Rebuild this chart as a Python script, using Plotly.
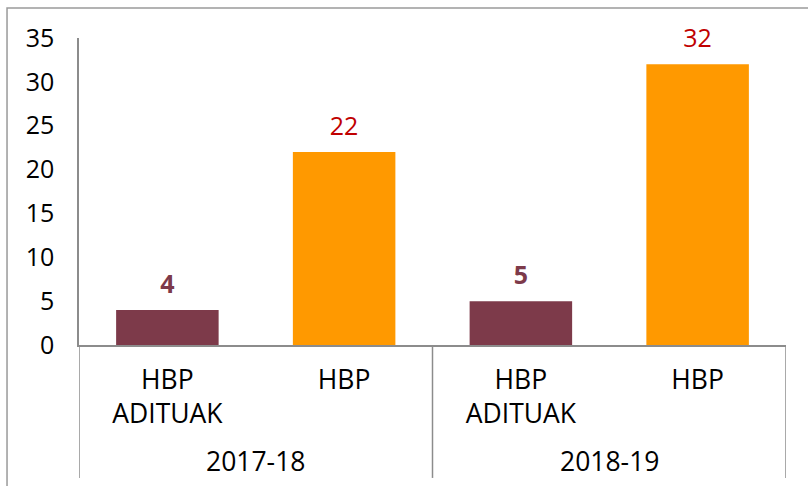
import plotly.graph_objects as go

groups = ["2017-18", "2017-18", "2018-19", "2018-19"]
categories = ["HBP<br>ADITUAK", "HBP", "HBP<br>ADITUAK", "HBP"]
values = [4, 22, 5, 32]
bar_colors = ["#7D3A4A", "#FF9900", "#7D3A4A", "#FF9900"]
label_colors = ["#7D3A4A", "#C00000", "#7D3A4A", "#C00000"]
label_weights = ["bold", "normal", "bold", "normal"]
y_ticks = [0, 5, 10, 15, 20, 25, 30, 35]

FONT = "Open Sans"
GREY = "#8C8C8C"

keys = [f"{g}|{c}" for g, c in zip(groups, categories)]

fig = go.Figure()
fig.add_trace(go.Bar(
    x=keys, y=values,
    marker=dict(color=bar_colors, line=dict(width=0)),
    hoverinfo="skip",
))
fig.add_trace(go.Scatter(
    x=keys, y=values,
    mode="markers+text",
    text=[f"<b>{v}</b>" if w == "bold" else str(v) for v, w in zip(values, label_weights)],
    textposition="top center",
    textfont=dict(family=FONT, size=25, color=label_colors),
    marker=dict(size=16, opacity=0),
    hoverinfo="skip",
    cliponaxis=False,
))

# group labels and dividers, positioned on the category axis by index
annotations = []
shapes = []
unique_groups = list(dict.fromkeys(groups))
boundaries = [-0.5]
for grp in unique_groups:
    idx = [i for i, g in enumerate(groups) if g == grp]
    center = sum(idx) / len(idx)
    annotations.append(dict(
        x=center, xref="x", y=0, yref="paper", yshift=-136,
        yanchor="bottom", xanchor="center", showarrow=False,
        text=grp, font=dict(family=FONT, size=26.5, color="#000000"),
    ))
    boundaries.append(max(idx) + 0.5)
for b in boundaries:
    shapes.append(dict(type="line", xref="x", yref="paper",
                       x0=b, x1=b, y0=0, y1=-0.433,
                       line=dict(color=GREY, width=1.5)))
shapes.append(dict(type="rect", xref="paper", yref="paper",
                   x0=-0.1018, x1=1.3, y0=-0.7, y1=1.0977,
                   line=dict(color="#9A9A9A", width=1.5), layer="below"))

fig.update_layout(
    width=808, height=486,
    margin=dict(l=79, r=22, t=38, b=141),
    paper_bgcolor="white", plot_bgcolor="white",
    showlegend=False,
    bargap=0.42,
    font=dict(family=FONT, size=24, color="#000000"),
    annotations=annotations,
    shapes=shapes,
)
fig.update_yaxes(
    range=[0, 35], tickvals=y_ticks, showgrid=False, zeroline=False,
    showline=True, linecolor=GREY, linewidth=1.5,
    ticks="", ticklabelstandoff=18,
    tickfont=dict(family=FONT, size=25, color="#000000"),
)
fig.update_xaxes(
    type="category", categoryorder="array", categoryarray=keys,
    tickvals=keys, ticktext=categories,
    range=[-0.5, len(keys) - 0.5],
    showgrid=False, zeroline=False,
    showline=True, linecolor=GREY, linewidth=1.5,
    ticks="", ticklabelstandoff=10,
    tickfont=dict(family=FONT, size=26.5, color="#000000"),
)

fig.write_html("out.html", config={"displayModeBar": False},
               post_script="document.body.style.margin='0';")
